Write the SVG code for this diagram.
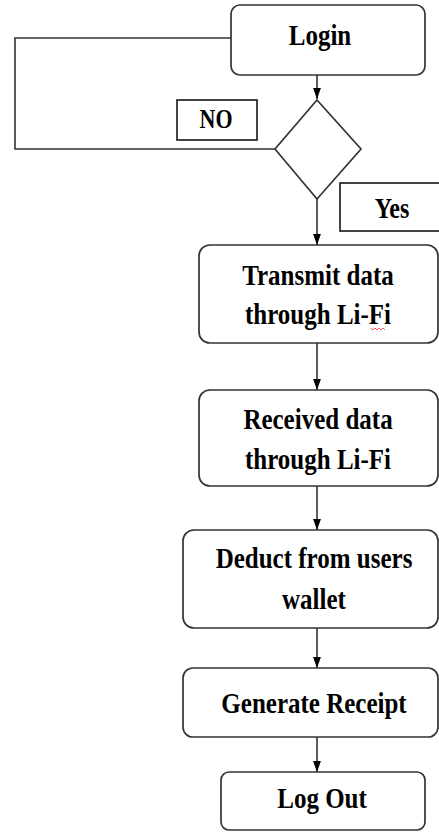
<svg xmlns="http://www.w3.org/2000/svg" width="439" height="832" viewBox="0 0 439 832">
<style>
.box{fill:#fff;stroke:#333;stroke-width:1.7}
.lbl{fill:#fff;stroke:#222;stroke-width:1.7}
.ln{fill:none;stroke:#333;stroke-width:1.6}
text{font-family:"Liberation Serif","Times New Roman",serif;font-weight:bold;fill:#000;text-anchor:middle}
.t{font-size:25px}
</style>
<defs>
<marker id="ah" viewBox="0 0 10 10" refX="10" refY="5" markerWidth="7" markerHeight="5" markerUnits="strokeWidth" orient="auto" preserveAspectRatio="none">
<path d="M0,0 L10,5 L0,10 z" fill="#000"/>
</marker>
</defs>
<rect width="439" height="832" fill="#fff"/>
<g id="connectors">
<line class="ln" x1="317" y1="75" x2="317" y2="99" marker-end="url(#ah)"/>
<polyline class="ln" points="275,149 15,149 15,38 231,38"/>
<line class="ln" x1="317" y1="199" x2="317" y2="245" marker-end="url(#ah)"/>
<line class="ln" x1="317" y1="343" x2="317" y2="390" marker-end="url(#ah)"/>
<line class="ln" x1="317" y1="486" x2="317" y2="530" marker-end="url(#ah)"/>
<line class="ln" x1="317" y1="628" x2="317" y2="668" marker-end="url(#ah)"/>
<line class="ln" x1="317" y1="737" x2="317" y2="772" marker-end="url(#ah)"/>
</g>
<g id="login">
<rect class="box" x="231" y="5" width="194" height="70" rx="9"/>
<text class="t" transform="translate(320,45) scale(1,1.2)">Login</text>
</g>
<g id="decision">
<polygon class="box" points="317,100 361,149 317,199 275,149"/>
</g>
<g id="no-label">
<rect class="lbl" x="177" y="100" width="80" height="40"/>
<text transform="translate(216,128) scale(1,1.2)" font-size="22">NO</text>
</g>
<g id="yes-label">
<rect class="lbl" x="340" y="183" width="104" height="48"/>
<text transform="translate(392,218) scale(1,1.2)" font-size="24">Yes</text>
</g>
<g id="transmit">
<rect class="box" x="199" y="245" width="239" height="98" rx="11"/>
<text class="t" transform="translate(318,285) scale(1,1.2)">Transmit data</text>
<text class="t" transform="translate(318,324) scale(1,1.2)">through Li-Fi</text>
<path d="M371,328 l2,2 l2,-2 l2,2 l2,-2 l2,2 l2,-2 l2,2" fill="none" stroke="#e03030" stroke-width="0.8"/>
</g>
<g id="received">
<rect class="box" x="199" y="390" width="239" height="96" rx="11"/>
<text class="t" transform="translate(318,429) scale(1,1.2)">Received data</text>
<text class="t" transform="translate(318,469) scale(1,1.2)">through Li-Fi</text>
</g>
<g id="deduct">
<rect class="box" x="183" y="530" width="255" height="98" rx="11"/>
<text class="t" transform="translate(314,568) scale(1,1.2)">Deduct from users</text>
<text class="t" transform="translate(314,609) scale(1,1.2)">wallet</text>
</g>
<g id="generate">
<rect class="box" x="183" y="668" width="255" height="69" rx="10"/>
<text class="t" transform="translate(314,713) scale(1,1.2)">Generate Receipt</text>
</g>
<g id="logout">
<rect class="box" x="221" y="772" width="204" height="58" rx="8"/>
<text class="t" transform="translate(322,808) scale(1,1.2)">Log Out</text>
</g>
</svg>
